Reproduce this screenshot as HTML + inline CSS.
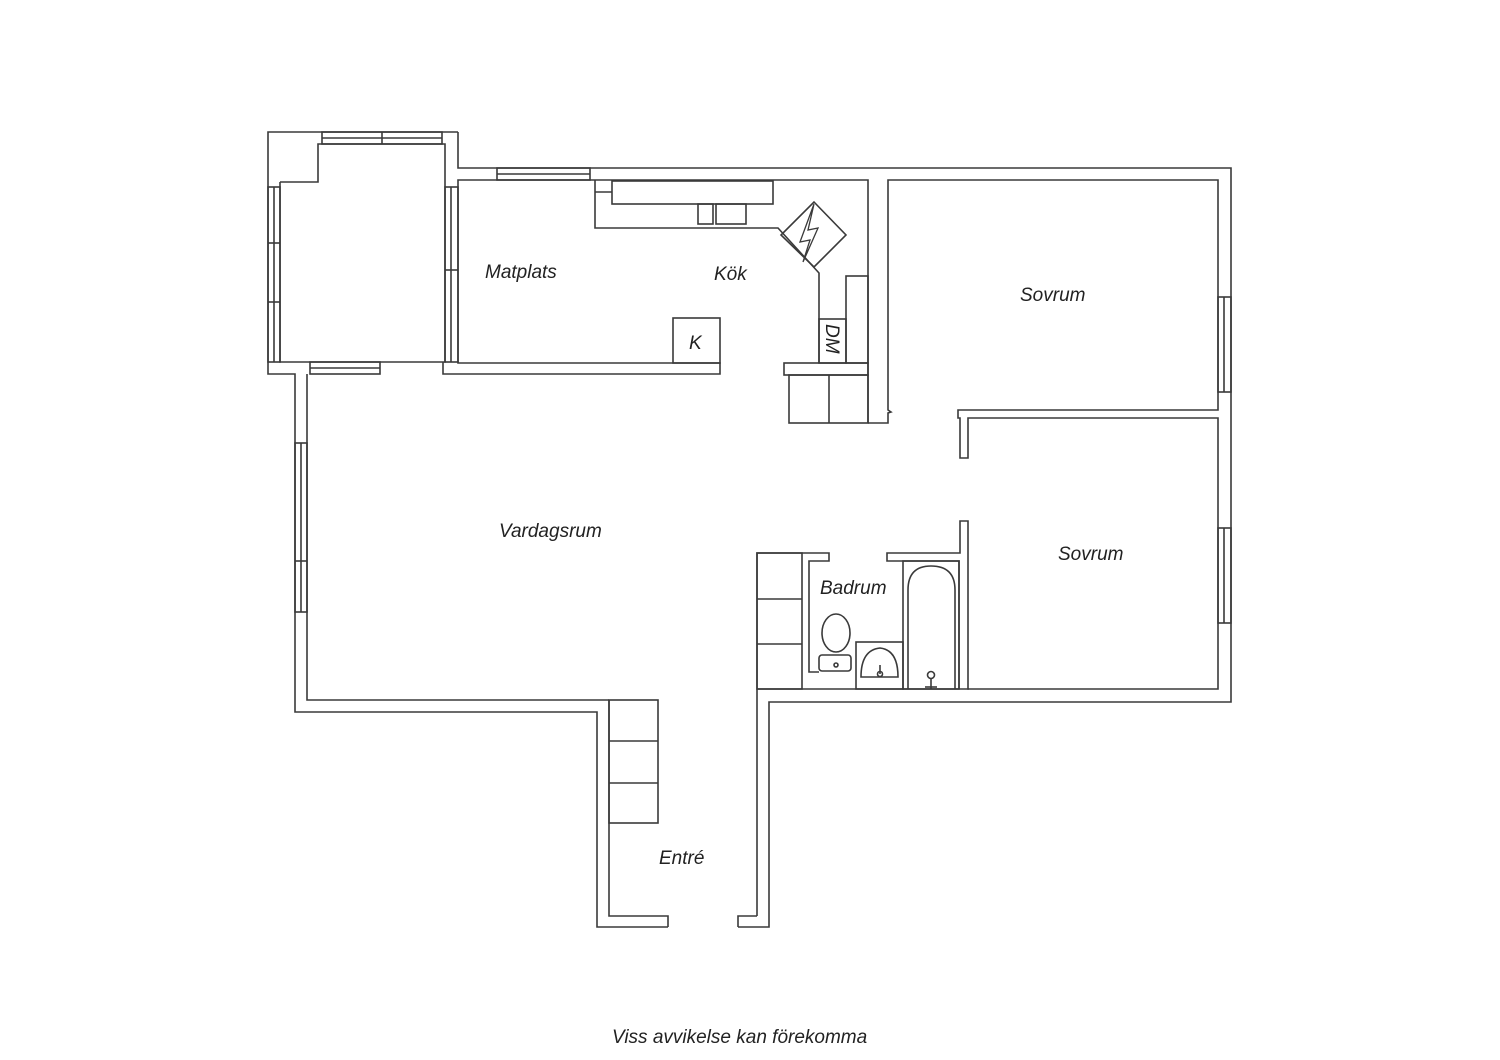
<!DOCTYPE html>
<html><head><meta charset="utf-8"><style>
html,body{margin:0;padding:0;background:#fff;width:1500px;height:1060px;overflow:hidden}
svg{display:block}
text{font-family:"Liberation Sans",sans-serif;font-style:italic;fill:#222;font-size:19px}
</style></head><body>
<svg width="1500" height="1060" viewBox="0 0 1500 1060">
<g fill="none" stroke="#3a3a3a" stroke-width="1.6">
<!-- outer outline -->
<polyline points="458,132 268,132 268,374 295,374 295,712 597,712 597,927 668,927"/>
<polyline points="738,927 769,927 769,702 1231,702 1231,168 458,168 458,132"/>
<!-- balcony inner -->
<polyline points="280,182 318,182 318,144 445,144 445,362 280,362 280,182"/>
<rect x="322" y="132" width="120" height="12"/><line x1="382" y1="132" x2="382" y2="144"/>
<line x1="322" y1="138" x2="442" y2="138"/>
<rect x="268" y="187" width="12" height="175"/><line x1="274" y1="187" x2="274" y2="362"/>
<line x1="268" y1="243" x2="280" y2="243"/><line x1="268" y1="302" x2="280" y2="302"/>
<rect x="310" y="362" width="70" height="12"/><line x1="310" y1="368" x2="380" y2="368"/>
<!-- living left wall -->
<polyline points="307,374 307,700 609,700"/>
<rect x="295" y="443" width="12" height="169"/><line x1="301" y1="443" x2="301" y2="612"/>
<line x1="295" y1="561" x2="307" y2="561"/>
<!-- matplats -->
<polyline points="443,362 443,374 720,374 720,363 458,363 458,180 595,180"/>
<rect x="445" y="187" width="13" height="175"/><line x1="451" y1="187" x2="451" y2="362"/>
<line x1="445" y1="270" x2="458" y2="270"/>
<rect x="497" y="168" width="93" height="12"/><line x1="497" y1="174" x2="590" y2="174"/>
<rect x="673" y="318" width="47" height="45"/>
<!-- kitchen -->
<polyline points="595,180 868,180 868,423"/>
<polyline points="595,180 595,228 778,228 819,273 819,363"/>
<line x1="595" y1="192" x2="612" y2="192"/>
<rect x="612" y="181" width="161" height="23"/>
<rect x="698" y="204" width="15" height="20"/><rect x="716" y="204" width="30" height="20"/>
<polygon points="814,202 846,235 814,267 781,235"/>
<polyline points="814,204 800,242 810,240 803,262 818,228 808,230 814,204" stroke-width="1.3"/>
<rect x="846" y="276" width="22" height="87"/>
<rect x="819" y="319" width="27" height="44"/>
<rect x="784" y="363" width="84" height="12"/>
<rect x="789" y="375" width="79" height="48"/><line x1="829" y1="375" x2="829" y2="423"/>
<polyline points="868,423 888,423 888,413 891,412 888,410 888,180 1218,180 1218,410 958,410 958,418 960,418 960,458 968,458 968,418 1218,418 1218,689 968,689 968,521 960,521 960,553 887,553 887,561 959,561 959,689"/>
<!-- windows right -->
<rect x="1218" y="297" width="13" height="95"/><line x1="1224" y1="297" x2="1224" y2="392"/>
<rect x="1218" y="528" width="13" height="95"/><line x1="1224" y1="528" x2="1224" y2="623"/>
<!-- bathroom -->
<polyline points="757,916 757,553 829,553 829,561 809,561 809,672 819,672"/>
<rect x="757" y="553" width="45" height="136"/>
<line x1="757" y1="599" x2="802" y2="599"/><line x1="757" y1="644" x2="802" y2="644"/>
<line x1="757" y1="689" x2="969" y2="689"/>
<rect x="903" y="561" width="56" height="128"/>
<path d="M908,689 L908,590 Q908,566 931,566 Q955,566 955,590 L955,689"/>
<circle cx="931" cy="675" r="3.5"/><line x1="931" y1="679" x2="931" y2="689"/><line x1="925" y1="687" x2="937" y2="687"/>
<rect x="856" y="642" width="47" height="47"/>
<path d="M861,677 L898,677 Q898,650 880,648 Q861,650 861,677 Z"/>
<line x1="880" y1="665" x2="880" y2="674"/><circle cx="880" cy="674" r="2.5"/>
<ellipse cx="836" cy="633" rx="14" ry="19"/>
<rect x="819" y="655" width="32" height="16" rx="3"/><circle cx="836" cy="665" r="2"/>
<!-- entry -->
<polyline points="609,700 609,916 668,916 668,927"/>
<polyline points="738,927 738,916 757,916"/>
<rect x="609" y="700" width="49" height="123"/>
<line x1="609" y1="741" x2="658" y2="741"/><line x1="609" y1="783" x2="658" y2="783"/>
</g>
<text x="485" y="278">Matplats</text>
<text x="714" y="280">Kök</text>
<text x="689" y="349">K</text>
<text x="0" y="0" transform="translate(826,324) rotate(90)" font-size="17">DM</text>
<text x="1020" y="301">Sovrum</text>
<text x="1058" y="560">Sovrum</text>
<text x="499" y="537">Vardagsrum</text>
<text x="820" y="594">Badrum</text>
<text x="659" y="864">Entré</text>
<text x="612" y="1043" font-size="19">Viss avvikelse kan förekomma</text>
</svg>
</body></html>
